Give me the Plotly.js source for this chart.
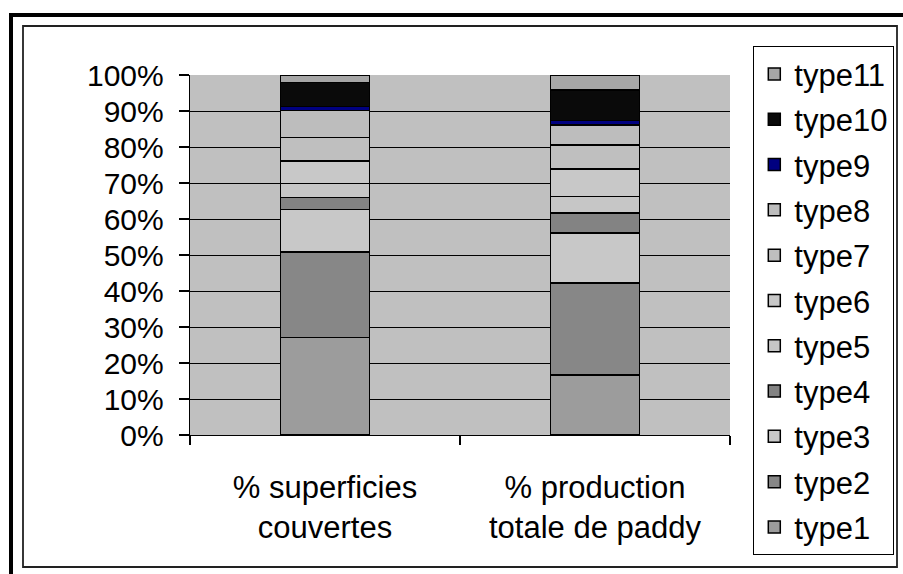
<!DOCTYPE html>
<html>
<head>
<meta charset="utf-8">
<script src="https://cdn.plot.ly/plotly-3.0.1.min.js"></script>
<style>html,body{margin:0;padding:0;background:#fff;}#chart{width:903px;height:574px;}</style>
</head>
<body>
<div id="chart"></div>
<script>
// ---- data ----
var categories = ["% superficies<br>couvertes", "% production<br>totale de paddy"];
var seriesNames = ["type1","type2","type3","type4","type5","type6","type7","type8","type9","type10","type11"];
var type1  = [27.1, 16.7];
var type2  = [23.8, 25.5];
var type3  = [11.8, 13.9];
var type4  = [3.3, 5.6];
var type5  = [3.9, 4.6];
var type6  = [6.2, 7.6];
var type7  = [6.5, 6.6];
var type8  = [7.5, 5.6];
var type9  = [1.1, 1.3];
var type10 = [6.7, 8.4];
var type11 = [2.1, 4.2];
var yTickVals = [0,10,20,30,40,50,60,70,80,90,100];
var yTickText = ["0%","10%","20%","30%","40%","50%","60%","70%","80%","90%","100%"];
var seriesValues = [type1,type2,type3,type4,type5,type6,type7,type8,type9,type10,type11];
var seriesColors = ["#9c9c9c","#878787","#c8c8c8","#838383","#c6c6c6","#c8c8c8","#bfbfbf","#bdbdbd","#000080","#0a0a0a","#a6a6a6"];

var FONT = "Arial, 'Liberation Sans', sans-serif";
var traces = seriesNames.map(function(n, i){
  return {
    type: "bar", name: n, x: categories, y: seriesValues[i],
    width: 0.33, legendgroup: n, legendrank: 1000 - i,
    marker: {color: seriesColors[i], line: {color: "#000", width: 1.5}},
    hoverinfo: "skip"
  };
});

// pixel geometry of plot area
var L = 190, T = 75, W = 540, H = 360;
function px(x){ return (x - L) / W; }
function py(y){ return (T + H - y) / H; }

var layout = {
  width: 903, height: 574,
  margin: {l: L, r: 903 - L - W, t: T, b: 574 - T - H, pad: 0, autoexpand: false},
  paper_bgcolor: "#ffffff",
  plot_bgcolor: "#c0c0c0",
  barmode: "stack",
  bargap: 0,
  showlegend: true,
  font: {family: FONT, color: "#000", size: 30},
  xaxis: {
    type: "category", tickson: "boundaries", ticks: "outside", ticklen: 9,
    tickcolor: "#000", tickwidth: 1.3, showline: true, linecolor: "#000", linewidth: 1.3,
    showgrid: false, zeroline: false, tickfont: {family: FONT, size: 31, color: "#000"},
    ticklabelstandoff: 24, range: [-0.5, 1.5], fixedrange: true, automargin: false
  },
  yaxis: {
    range: [0, 100], tickvals: yTickVals, ticktext: yTickText,
    ticks: "outside", ticklen: 10, tickcolor: "#000", tickwidth: 1.3,
    showline: true, linecolor: "#000", linewidth: 1.3,
    showgrid: true, gridcolor: "#000", gridwidth: 1, zeroline: false,
    tickfont: {family: FONT, size: 30, color: "#000"}, ticklabelstandoff: 9, fixedrange: true, automargin: false
  },
  legend: {
    x: px(753), y: py(46), xanchor: "left", yanchor: "top",
    traceorder: "grouped", tracegroupgap: 2, maxheight: 560,
    bgcolor: "#ffffff", bordercolor: "#000", borderwidth: 1.3,
    font: {family: FONT, size: 31, color: "#000"}
  },
  shapes: [
    {type: "rect", xref: "paper", yref: "paper", x0: px(23), x1: px(897), y0: py(26), y1: py(567),
     line: {color: "#222", width: 1.8}, fillcolor: "rgba(0,0,0,0)", layer: "below"},
    {type: "rect", xref: "paper", yref: "paper", x0: px(11), x1: px(915), y0: py(15), y1: py(585),
     line: {color: "#000", width: 4}, fillcolor: "rgba(0,0,0,0)", layer: "below"}
  ]
};

Plotly.newPlot("chart", traces, layout, {staticPlot: true, displayModeBar: false});
</script>
</body>
</html>
